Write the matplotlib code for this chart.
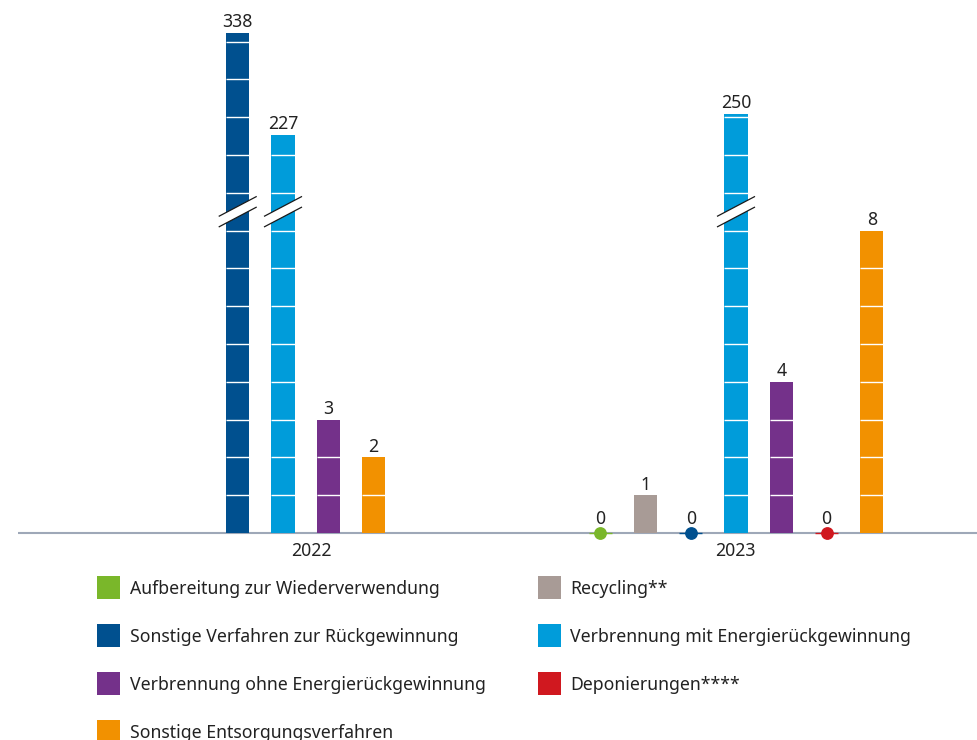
import matplotlib
matplotlib.use("Agg")
import matplotlib.pyplot as plt
from matplotlib.patches import Rectangle, Polygon
import math

plt.rcParams['font.family'] = ['Noto Sans', 'DejaVu Sans']

# --- data -------------------------------------------------------------
years = ['2022', '2023']
categories = [
    'Aufbereitung zur Wiederverwendung',
    'Recycling**',
    'Sonstige Verfahren zur Rückgewinnung',
    'Verbrennung mit Energierückgewinnung',
    'Verbrennung ohne Energierückgewinnung',
    'Deponierungen****',
    'Sonstige Entsorgungsverfahren',
]
colors = ['#7ab72a', '#a89b96', '#00508f', '#009cda', '#74318a', '#d0181f', '#f29100']
values_2022 = [None, None, 338, 227, 3, None, 2]
values_2023 = [0, 1, 0, 250, 4, 0, 8]
series = [values_2022, values_2023]

# --- layout -----------------------------------------------------------
W, H = 978, 740
SLOT = 45.3          # px per bar slot
UNIT = 37.8          # px per value unit (uncompressed)
BASE = 533           # px of the baseline
LEFT = 18
group_start = [4.85, 12.85]     # slot of first bar in each group
group_label_x = [6.47, 15.84]
bar_w = 0.51
BREAK_LIMIT = 10
BREAK_Y = 8.5
FS = 12.7


def shown(v):
    """Height on the (broken) value axis."""
    if v <= BREAK_LIMIT:
        return v
    return 4.99 + 0.02441 * v


fig = plt.figure(figsize=(W / 100, H / 100), dpi=100)
ax = fig.add_axes([LEFT / W, 0, 1 - LEFT / W, 1])
ax.set_xlim(0, (W - LEFT) / SLOT)
ax.set_ylim(-(H - BASE) / UNIT, BASE / UNIT)
ax.axis('off')

txt_color = '#222222'
label_off = 5.5 / UNIT

for g, vals in enumerate(series):
    pos = group_start[g]
    for ci, v in enumerate(vals):
        if v is None:
            continue
        c = colors[ci]
        x = pos
        pos += 1
        if v == 0:
            ax.hlines(0, x - bar_w / 2, x + bar_w / 2, color=c, lw=1.0, zorder=4)
            ax.plot([x], [0], 'o', ms=8.2, color=c, mec=c, zorder=5)
            ax.text(x, 9 / UNIT, f'{v}', ha='center', va='baseline',
                    fontsize=FS, color=txt_color)
            continue
        h = shown(v)
        ax.bar(x, h, width=bar_w, color=c, zorder=2)
        seg = [k for k in range(1, math.ceil(h)) if k < h - 0.05]
        if seg:
            ax.hlines(seg, x - bar_w / 2, x + bar_w / 2, color='white', lw=1.0, zorder=3)
        if v > BREAK_LIMIT:
            dx, dy, gap = 19 / SLOT, 10 / UNIT, 5.3 / UNIT
            band = Polygon([(x - dx, BREAK_Y - dy - gap), (x + dx, BREAK_Y + dy - gap),
                            (x + dx, BREAK_Y + dy + gap), (x - dx, BREAK_Y - dy + gap)],
                           closed=True, facecolor='white', edgecolor='none', zorder=6)
            ax.add_patch(band)
            for s in (-gap, gap):
                ax.plot([x - dx, x + dx], [BREAK_Y - dy + s, BREAK_Y + dy + s],
                        color='#1a1a1a', lw=0.9, zorder=7, solid_capstyle='butt')
        ax.text(x, h + label_off, f'{v}', ha='center', va='baseline',
                fontsize=FS, color=txt_color)

# baseline
ax.axhline(0, color='#9ea8b8', lw=1.5, zorder=1)

# year labels
for g, yl in enumerate(years):
    ax.text(group_label_x[g], -18.5 / UNIT, yl, ha='center', va='center',
            fontsize=FS, color=txt_color)

# legend (column-wise: 4 rows in the first column, 3 in the second)
sq = 23
rows_y = [587.5, 635.5, 683.5, 731.5]
col_sq_x = [97, 538]
col_txt_x = [130, 570]
order = [0, 2, 4, 6, 1, 3, 5]
for i, ci in enumerate(order):
    col = 0 if i < 4 else 1
    row = i if i < 4 else i - 4
    yc = rows_y[row]
    fig.add_artist(Rectangle((col_sq_x[col] / W, 1 - (yc + sq / 2) / H), sq / W, sq / H,
                             transform=fig.transFigure, facecolor=colors[ci],
                             edgecolor='none'))
    fig.text(col_txt_x[col] / W, 1 - (yc + 6.3) / H, categories[ci], ha='left',
             va='baseline', fontsize=FS, color=txt_color)

fig.savefig('out.png', dpi=100)
